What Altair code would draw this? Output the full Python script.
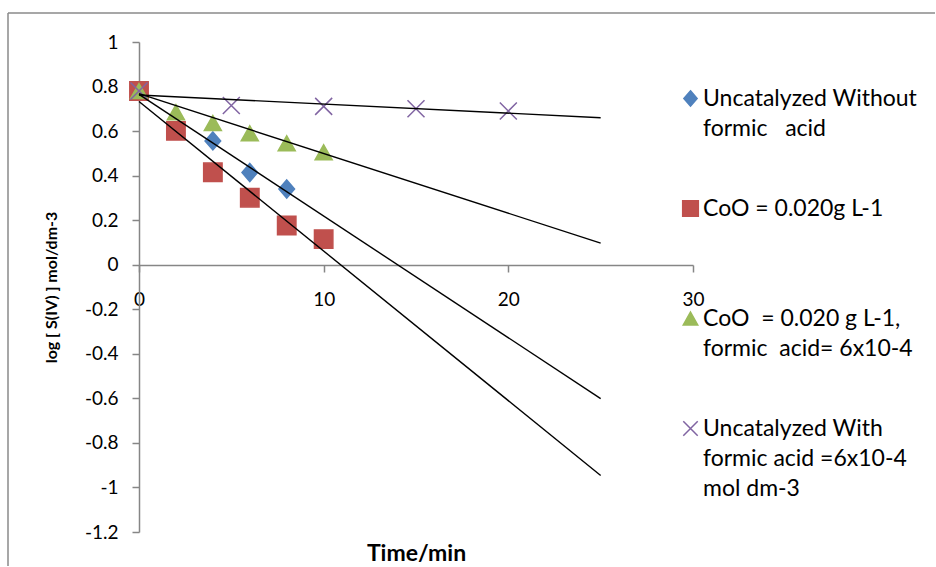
import altair as alt
import pandas as pd

# ---------------- data ----------------
NB = "\u00a0"  # keeps the runs of spaces that the original legend text has
series_names = [
    "Uncatalyzed Without|formic" + NB * 3 + "acid",
    "CoO = 0.020g L-1| ",
    NB + "CoO" + NB * 2 + "= 0.020 g L-1,|formic" + NB * 2 + "acid= 6x10-4",
    "Uncatalyzed With|formic acid =6x10-4|mol dm-3",
]
series_colors = ["#4F81BD", "#C0504D", "#9BBB59", "#8064A2"]

time_uncat = [0, 4, 6, 8]
log_uncat = [0.78, 0.556, 0.414, 0.340]

time_coo = [0, 2, 4, 6, 8, 10]
log_coo = [0.78, 0.601, 0.415, 0.301, 0.176, 0.115]

time_coo_fa = [0, 2, 4, 6, 8, 10]
log_coo_fa = [0.78, 0.685, 0.636, 0.590, 0.545, 0.505]

time_uncat_fa = [0, 5, 10, 15, 20]
log_uncat_fa = [0.78, 0.715, 0.711, 0.700, 0.690]

trend_time = [0, 25]
trend_uncat = [0.765, -0.601]
trend_coo = [0.733, -0.946]
trend_coo_fa = [0.768, 0.097]
trend_uncat_fa = [0.762, 0.660]

x_ticks = [0, 10, 20, 30]
y_ticks = [-1.2, -1, -0.8, -0.6, -0.4, -0.2, 0, 0.2, 0.4, 0.6, 0.8, 1]

# ---------------- tables ----------------
point_sets = [
    (series_names[0], time_uncat, log_uncat),
    (series_names[1], time_coo, log_coo),
    (series_names[2], time_coo_fa, log_coo_fa),
    (series_names[3], time_uncat_fa, log_uncat_fa),
]
points_df = pd.DataFrame(
    [{"series": s, "time": t, "log": v} for s, ts, vs in point_sets for t, v in zip(ts, vs)]
)

trend_sets = [
    (series_names[0], trend_uncat),
    (series_names[1], trend_coo),
    (series_names[2], trend_coo_fa),
    (series_names[3], trend_uncat_fa),
]
trend_df = pd.DataFrame(
    [{"series": s, "time": t, "log": v} for s, vs in trend_sets for t, v in zip(trend_time, vs)]
)

# ---------------- styling ----------------
FONT = "Lato"
AXIS_GRAY = "#868686"

shape_paths = [
    "M0,-0.9L0.78,0L0,0.9L-0.78,0Z",          # diamond
    "M-0.92,-0.92H0.92V0.92H-0.92Z",          # square
    "M0,-0.75L0.85,0.75L-0.85,0.75Z",         # triangle
    "M-0.85,-0.85L0.85,0.85M-0.85,0.85L0.85,-0.85",  # x
]

color_scale = alt.Scale(domain=series_names, range=series_colors)
shape_scale = alt.Scale(domain=series_names, range=shape_paths)

legend = alt.Legend(
    title=None,
    orient="none",
    legendX=540,
    legendY=45,
    padding=0,
    labelExpr="split(datum.label, '|')",
    labelFont=FONT,
    labelFontSize=23,
    labelColor="black",
    labelLimit=400,
    labelBaseline="middle",
    labelOffset=1,
    rowPadding=56,
    symbolSize=289,
    symbolStrokeWidth=1.5,
    symbolOpacity=1,
)

x_enc = alt.X(
    "time:Q",
    scale=alt.Scale(domain=[0, 30], nice=False),
    axis=alt.Axis(
        values=x_ticks,
        labelExpr="'' + datum.value",
        offset=-267,
        grid=False,
        labelFlush=False,
        labelOverlap=False,
        labelFont=FONT,
        labelFontSize=19,
        labelColor="black",
        labelPadding=18,
        tickSize=7,
        tickWidth=1.5,
        tickColor=AXIS_GRAY,
        domainColor=AXIS_GRAY,
        domainWidth=1.5,
        title="Time/min",
        titleFont=FONT,
        titleFontSize=23,
        titleFontWeight="bold",
        titleColor="black",
        titleX=277,
        titleY=295,
        titleAlign="center",
        titleBaseline="alphabetic",
    ),
)

y_enc = alt.Y(
    "log:Q",
    scale=alt.Scale(domain=[-1.2, 1], nice=False),
    axis=alt.Axis(
        values=y_ticks,
        labelExpr="'' + datum.value",
        grid=False,
        labelFont=FONT,
        labelFontSize=19,
        labelColor="black",
        labelPadding=14,
        tickSize=7,
        tickWidth=1.5,
        tickColor=AXIS_GRAY,
        domainColor=AXIS_GRAY,
        domainWidth=1.5,
        title="log [ S(IV) ] mol/dm-3",
        titleFont=FONT,
        titleFontSize=16,
        titleFontWeight="bold",
        titleColor="black",
        titleAngle=270,
        titleX=-88,
        titleY=245,
        titleAlign="center",
        titleBaseline="middle",
    ),
)

# outer frame of the chart area (top and left edges visible in the reference)
frame_df = pd.DataFrame({"k": [0]})
frame_top = alt.Chart(frame_df).mark_rule(color="#8a8a8a", strokeWidth=1.5).encode(
    x=alt.value(-131), x2=alt.value(796), y=alt.value(-29)
)
frame_left = alt.Chart(frame_df).mark_rule(color="#8a8a8a", strokeWidth=1.5).encode(
    x=alt.value(-131), y=alt.value(-29), y2=alt.value(524)
)

points = alt.Chart(points_df).mark_point(size=400, opacity=1, strokeWidth=1.5).encode(
    x=x_enc,
    y=y_enc,
    fill=alt.Fill("series:N", scale=color_scale, legend=legend),
    stroke=alt.Stroke("series:N", scale=color_scale, legend=legend),
    shape=alt.Shape("series:N", scale=shape_scale, legend=legend),
)

trend = alt.Chart(trend_df).mark_line(color="black", strokeWidth=1.4).encode(
    x=x_enc,
    y=y_enc,
    detail="series:N",
)

chart = (
    alt.layer(frame_top, frame_left, points, trend)
    .properties(
        width=554,
        height=490,
        padding={"left": 7, "top": 12, "right": 0, "bottom": 0},
        background="white",
    )
    .configure(
        style={"guide-label": {"lineHeight": 30}},
        view=alt.ViewConfig(stroke=None),
    )
)

chart.save("out.html", embed_options={"renderer": "svg", "actions": False})
